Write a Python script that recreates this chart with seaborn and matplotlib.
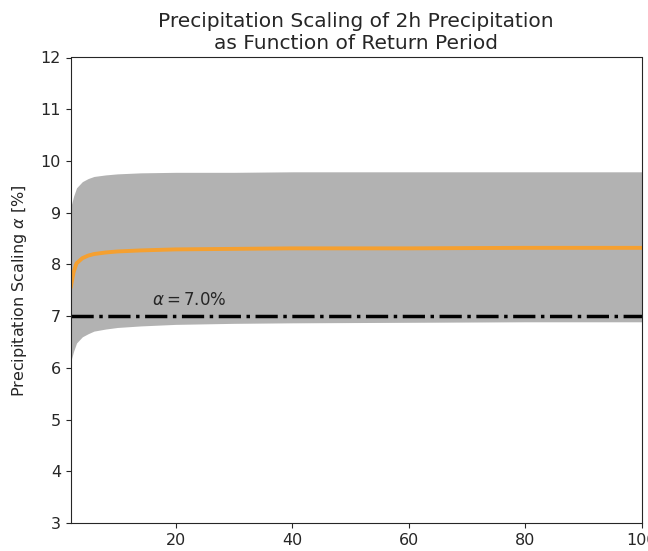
import numpy as np
import pandas as pd
import seaborn as sns
import matplotlib.pyplot as plt

# values
return_period = [2, 2.5, 3, 4, 5, 6, 8, 10, 14, 20, 30, 40, 60, 80, 100]
alpha_median = [7.55, 7.85, 8.02, 8.12, 8.17, 8.20, 8.23, 8.25, 8.27, 8.29, 8.30, 8.31, 8.31, 8.32, 8.32]
alpha_lower = [6.12, 6.32, 6.48, 6.60, 6.66, 6.71, 6.75, 6.78, 6.81, 6.84, 6.86, 6.87, 6.88, 6.89, 6.89]
alpha_upper = [9.10, 9.32, 9.48, 9.60, 9.66, 9.70, 9.73, 9.75, 9.77, 9.78, 9.78, 9.79, 9.79, 9.79, 9.79]
cc_rate = 7.0

df = pd.DataFrame({'ReturnPeriod': return_period, 'Median': alpha_median,
                   'Lower': alpha_lower, 'Upper': alpha_upper})

sns.set_style("ticks")
plt.rcParams['font.family'] = ['DejaVu Sans']

fig = plt.figure(figsize=(6.48, 5.51), dpi=100)
ax = fig.add_axes([70.7 / 648, 28 / 551, 571 / 648, 465.5 / 551])

# uncertainty band
ax.fill_between(df['ReturnPeriod'], df['Lower'], df['Upper'], color='grey', alpha=0.6, linewidth=0)
# Clausius-Clapeyron reference
ax.axhline(cc_rate, color='black', linestyle='-.', linewidth=2.5)
ax.text(16, cc_rate + 0.13, r'$\alpha = 7.0\%$', fontsize=12, ha='left', va='bottom')
# median scaling
sns.lineplot(data=df, x='ReturnPeriod', y='Median', color='#f5a030', linewidth=2.8, ax=ax)

ax.set_xlim(2, 100)
ax.set_ylim(3, 12)
ax.set_xticks([20, 40, 60, 80, 100])
ax.set_yticks(range(3, 13))
ax.tick_params(labelsize=11.5)
ax.set_xlabel('Return Period [years]', fontsize=11.5)
ax.set_ylabel(r'Precipitation Scaling $\alpha$ [%]', fontsize=11.5, labelpad=8)
ax.set_title('Precipitation Scaling of 2h Precipitation\nas Function of Return Period', fontsize=14.5)

fig.savefig('out.png', dpi=100)
